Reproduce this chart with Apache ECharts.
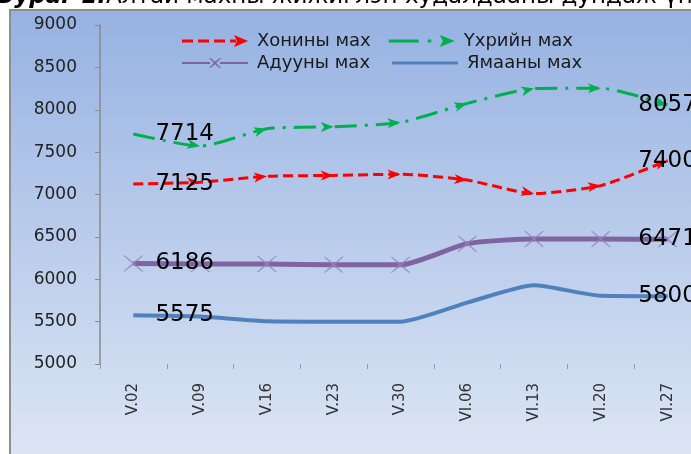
<!DOCTYPE html>
<html><head><meta charset="utf-8">
<script src="https://cdn.jsdelivr.net/npm/echarts@6/dist/echarts.min.js"></script>
<style>html,body{margin:0;padding:0;background:#fff;overflow:hidden}#c{width:691px;height:454px}</style>
</head><body><div id="c"></div>
<script>
const categories = ['V.02','V.09','V.16','V.23','V.30','VI.06','VI.13','VI.20','VI.27'];
const seriesNames = ['Хонины мах','Үхрийн мах','Адууны мах','Ямааны мах'];
const sheep = [7125, 7145, 7215, 7225, 7240, 7170, 7010, 7105, 7400];
const beef  = [7714, 7570, 7775, 7800, 7850, 8075, 8250, 8255, 8057];
const horse = [6186, 6180, 6180, 6170, 6170, 6420, 6475, 6475, 6471];
const goat  = [5575, 5560, 5505, 5500, 5500, 5725, 5930, 5805, 5800];
const yMin = 5000, yMax = 9000, yStep = 500;
const titleBold = 'Зураг 1.';
const titleRest = 'Алтай махны жижиглэн худалдааны дундаж үнэ';

const FONT = '"DejaVu Sans", "Liberation Sans", Arial, sans-serif';
const ARROW = 'path://M-13,-5 L0,0 L-13,5 L-9.5,0 Z M13,0 L13.01,0 L13,0.01 Z';
const XMARK = 'path://M0,0 L1.6,0 L10,6.9 L18.4,0 L20,0 L11.2,8 L20,16 L18.4,16 L10,9.1 L1.6,16 L0,16 L8.8,8 Z';
const corners = ' M0,0 L0.01,0 L0,0.01 Z M66,14 L65.99,14 L66,13.99 Z';
const legIcons = [
  'path://M0,5.5h11v3h-11z M16,5.5h11v3h-11z M32,5.5h11v3h-11z M48,5.5h6v3h-6z M52,1 L66,7 L52,13 L55,7 Z' + corners,
  'path://M0,5.5h30v3h-30z M39,5.5h3.5v3h-3.5z M51,1 L66,7 L51,13 L54,7 Z' + corners,
  'path://M0,6h28v2h-28z M38,6h28v2h-28z M27,2 L28.5,2 L33,5.8 L37.5,2 L39,2 L34.2,7 L39,12 L37.5,12 L33,8.2 L28.5,12 L27,12 L31.8,7 Z' + corners,
  'path://M0,5.5h66v3h-66z' + corners
];
const legColors = ['#ff0000','#00b050','#8064a2','#4f81bd'];

const labelStyle = {fontSize: 23, fontFamily: FONT, color: '#000'};
function buildData(vals, baseSym, rot) {
  const n = vals.length;
  return vals.map((v, i) => {
    const d = {value: v};
    if (rot) d.symbolRotate = rot[i];
    if (i === 0) {
      if (baseSym === ARROW) { d.symbol = 'circle'; d.symbolSize = 1; }
      d.label = Object.assign({show: true, position: 'inside', align: 'left', offset: [22, 0]}, labelStyle);
    } else if (i === n - 1) {
      d.label = Object.assign({show: true, position: 'inside', align: 'center', offset: [0, 0]}, labelStyle);
    }
    return d;
  });
}

const chart = echarts.init(document.getElementById('c'), null, {renderer: 'canvas'});

function makeSeries(rots) {
  return [
    {name: seriesNames[0], type: 'line', smooth: 0.2, showAllSymbol: true, z: 3,
     symbol: ARROW, symbolSize: [26, 10], itemStyle: {color: '#ff0000'},
     lineStyle: {color: '#ff0000', width: 3, type: [10, 5]},
     data: buildData(sheep, ARROW, rots && rots[0])},
    {name: seriesNames[1], type: 'line', smooth: 0.2, showAllSymbol: true, z: 3,
     symbol: ARROW, symbolSize: [26, 10], itemStyle: {color: '#00b050'},
     lineStyle: {color: '#00b050', width: 3, type: [22, 8, 3, 8]},
     data: buildData(beef, ARROW, rots && rots[1])},
    {name: seriesNames[2], type: 'line', smooth: 0.2, showAllSymbol: true, z: 2,
     symbol: XMARK, symbolSize: [20, 16], itemStyle: {color: 'rgba(150,130,185,0.85)'},
     lineStyle: {color: '#8064a2', width: 5},
     data: buildData(horse, XMARK, null)},
    {name: seriesNames[3], type: 'line', smooth: 0.2, showAllSymbol: true, z: 2,
     symbol: 'circle', symbolSize: 1, itemStyle: {color: '#4f81bd'},
     lineStyle: {color: '#4f81bd', width: 4},
     data: buildData(goat, 'circle', null)}
  ];
}

function legendItem(i) {
  return {name: seriesNames[i], icon: legIcons[i], itemStyle: {color: legColors[i]}};
}
const legendText = {fontSize: 18, fontFamily: FONT, color: '#1a1a1a', padding: [0, 0, 0, 4]};

const option = {
  backgroundColor: '#ffffff',
  animation: false,
  graphic: [
    {type: 'rect', z: -10, silent: true,
     shape: {x: 10, y: 10, width: 720, height: 470},
     style: {fill: new echarts.graphic.LinearGradient(0, 0, 0, 1, [
       {offset: 0, color: '#96b2e2'}, {offset: 1, color: '#e0e8f5'}]),
       stroke: '#8f8f8f', lineWidth: 2}},
    {type: 'text', left: -2, top: -14, z: 5, silent: true,
     style: {text: '{b|' + titleBold + '}{n|' + titleRest + '}',
       rich: {
         b: {fontSize: 23, fontWeight: 'bold', fontStyle: 'italic', fontFamily: FONT, fill: '#000'},
         n: {fontSize: 23, fontFamily: FONT, fill: '#000'}
       }}}
  ],
  grid: {left: 100, width: 601, top: 25, bottom: 90, containLabel: false, outerBoundsMode: 'none'},
  legend: [
    {data: [legendItem(0), legendItem(1)], left: 182, top: 32, itemWidth: 66, itemHeight: 14,
     itemGap: 18, padding: 0, textStyle: legendText, selectedMode: false},
    {data: [legendItem(2), legendItem(3)], left: 182, top: 54, itemWidth: 66, itemHeight: 14,
     itemGap: 22, padding: 0, textStyle: legendText, selectedMode: false}
  ],
  xAxis: {
    type: 'category', data: categories, boundaryGap: true,
    axisLine: {show: false},
    axisTick: {show: true, length: 5, lineStyle: {color: '#9a9a9a'}},
    axisLabel: {rotate: 90, fontSize: 15, fontFamily: FONT, color: '#333', margin: 19}
  },
  yAxis: {
    type: 'value', min: yMin, max: yMax, interval: yStep,
    axisLine: {show: true, lineStyle: {color: '#8a8a8a', width: 1.5}},
    axisTick: {show: true, length: 5, lineStyle: {color: '#8a8a8a'}},
    axisLabel: {fontSize: 17, fontFamily: FONT, color: '#222', margin: 23,
      formatter: v => String(v)},
    splitLine: {show: false}
  },
  series: makeSeries(null)
};
chart.setOption(option);

function rotations(vals) {
  return vals.map((v, i) => {
    if (i === 0) return 0;
    const p0 = chart.convertToPixel({gridIndex: 0}, [i - 1, vals[i - 1]]);
    const p1 = chart.convertToPixel({gridIndex: 0}, [i, v]);
    return Math.atan2(-(p1[1] - p0[1]), p1[0] - p0[0]) * 180 / Math.PI;
  });
}
chart.setOption({series: makeSeries([rotations(sheep), rotations(beef)])});
</script>
</body></html>
